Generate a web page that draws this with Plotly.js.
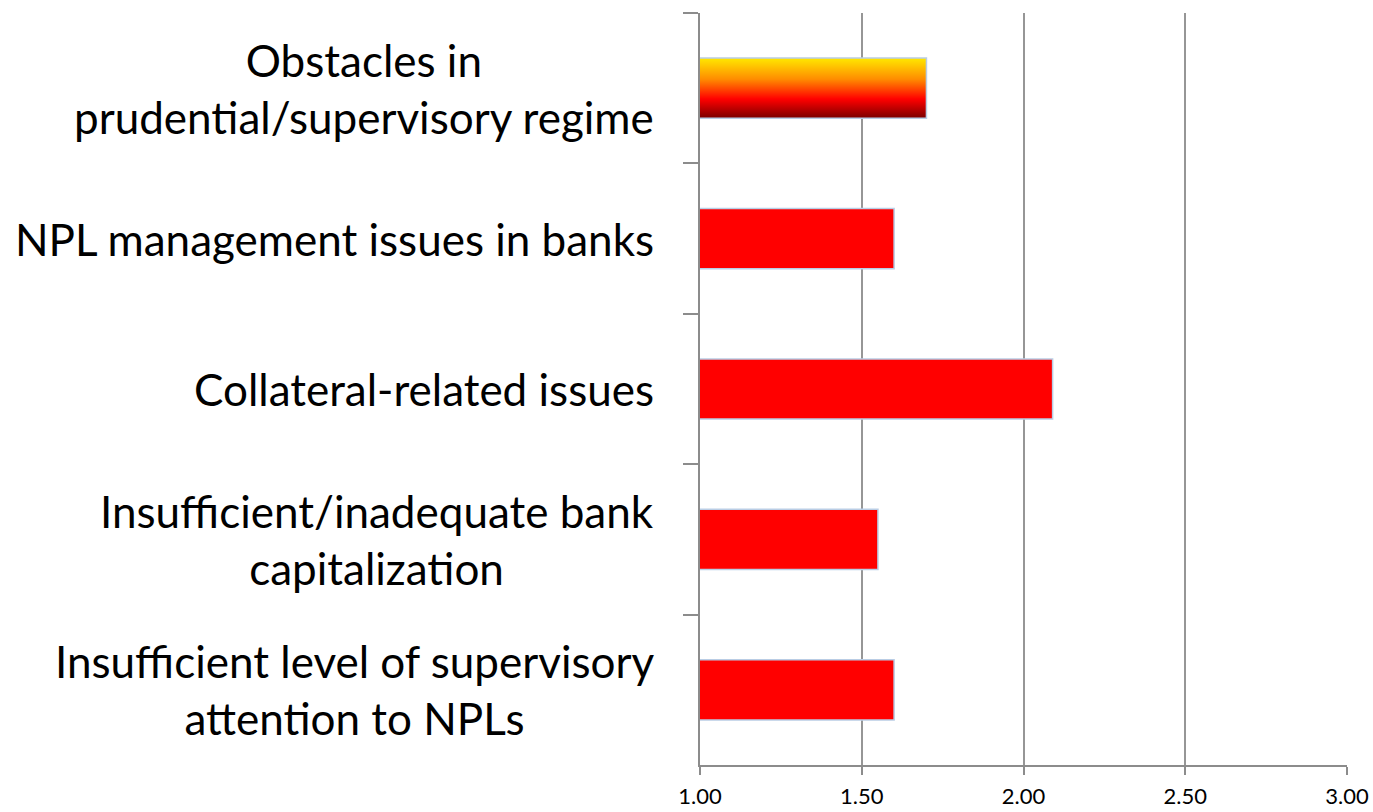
<!DOCTYPE html>
<html>
<head>
<meta charset="utf-8">
<script src="https://cdn.plot.ly/plotly-3.0.1.min.js"></script>
<style>
  html, body { margin: 0; padding: 0; background: #ffffff; }
  #chart { width: 1373px; height: 812px; }
</style>
</head>
<body>
<div id="chart"></div>
<script>
// Obstacles to NPL resolution, average score (1 = low, 3 = high)
const categories = [
  "Obstacles in<br>prudential/supervisory regime",
  "NPL management issues in banks",
  "Collateral-related issues",
  "Insufficient/inadequate bank<br>capitalization",
  "Insufficient level of supervisory<br>attention to NPLs"
];
const scores = [1.70, 1.60, 2.09, 1.55, 1.60];
const tickValues = [1.0, 1.5, 2.0, 2.5, 3.0];
const tickLabels = ["1.00", "1.50", "2.00", "2.50", "3.00"];

const labelFont = { family: "Lato, 'Open Sans', sans-serif", size: 44, color: "#000000" };

const trace = {
  type: "bar",
  orientation: "h",
  y: categories,
  x: scores,
  marker: {
    color: "#FF0000",
    line: { color: "rgb(185,205,229)", width: 1.5 }
  },
  hoverinfo: "x+y"
};

// Category names as centred, multi-line labels to the left of the axis
const categoryLabels = categories.map(function (c) {
  return {
    text: c,
    xref: "paper",
    yref: "y",
    x: 0,
    y: c,
    xanchor: "right",
    yanchor: "middle",
    xshift: -44,
    align: "center",
    showarrow: false,
    font: labelFont
  };
});

const layout = {
  width: 1373,
  height: 812,
  margin: { l: 700, r: 26, t: 13, b: 47 },
  paper_bgcolor: "#ffffff",
  plot_bgcolor: "#ffffff",
  showlegend: false,
  bargap: 0.6,
  font: { family: "Lato, 'Open Sans', sans-serif", color: "#000000" },
  annotations: categoryLabels,
  xaxis: {
    range: [1, 3],
    tickvals: tickValues,
    ticktext: tickLabels,
    showgrid: true,
    gridcolor: "#969696",
    gridwidth: 2,
    zeroline: false,
    showline: true,
    linecolor: "#8c8c8c",
    linewidth: 2,
    ticks: "outside",
    ticklen: 8,
    tickwidth: 2,
    tickcolor: "#8c8c8c",
    ticklabelstandoff: 3,
    tickfont: { size: 22, color: "#000000" },
    fixedrange: true
  },
  yaxis: {
    type: "category",
    autorange: "reversed",
    showgrid: false,
    zeroline: false,
    showline: true,
    linecolor: "#8c8c8c",
    linewidth: 2,
    ticks: "outside",
    tickson: "boundaries",
    ticklen: 15,
    tickwidth: 2,
    tickcolor: "#8c8c8c",
    showticklabels: false,
    fixedrange: true
  }
};

// Top bar gets a vertical yellow-to-dark-red fill
function applyGradient(gd) {
  const svg = gd.querySelector("svg.main-svg");
  if (!svg) return;
  const ns = "http://www.w3.org/2000/svg";
  let defs = svg.querySelector("defs");
  if (!defs) {
    defs = document.createElementNS(ns, "defs");
    svg.insertBefore(defs, svg.firstChild);
  }
  if (!svg.querySelector("#barHeatFill")) {
    const grad = document.createElementNS(ns, "linearGradient");
    grad.setAttribute("id", "barHeatFill");
    grad.setAttribute("x1", "0"); grad.setAttribute("y1", "0");
    grad.setAttribute("x2", "0"); grad.setAttribute("y2", "1");
    const stops = [
      ["0%", "#FFE800"],
      ["35%", "#FF8C00"],
      ["68%", "#FF0000"],
      ["100%", "#7A0000"]
    ];
    stops.forEach(function (s) {
      const st = document.createElementNS(ns, "stop");
      st.setAttribute("offset", s[0]);
      st.setAttribute("stop-color", s[1]);
      grad.appendChild(st);
    });
    defs.appendChild(grad);
  }
  const bars = gd.querySelectorAll(".barlayer .point path");
  if (bars.length) {
    bars[0].style.fill = "url(#barHeatFill)";
  }
}

const gd = document.getElementById("chart");
Plotly.newPlot(gd, [trace], layout, { displayModeBar: false, staticPlot: true })
  .then(applyGradient);
</script>
</body>
</html>
